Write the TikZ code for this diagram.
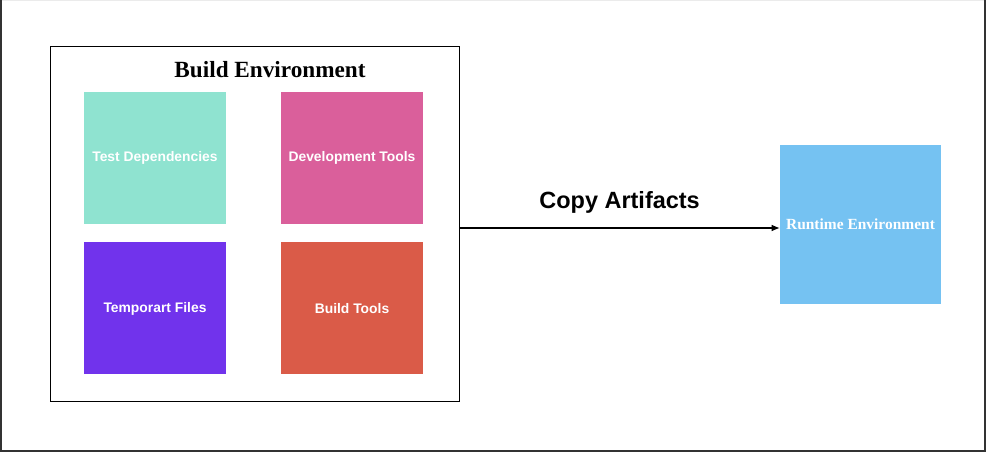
\documentclass[tikz,border=0pt]{standalone}
\usepackage{fontspec}
\setmainfont{Liberation Serif}
\newfontfamily\labelfont{Liberation Sans}
\usepackage{tikz}
\usetikzlibrary{positioning,arrows.meta}

\definecolor{testcol}{HTML}{8FE3D0}
\definecolor{devcol}{HTML}{DA5F9B}
\definecolor{tempcol}{HTML}{7133EC}
\definecolor{buildcol}{HTML}{DA5B48}
\definecolor{runcol}{HTML}{75C2F2}
\definecolor{framecol}{HTML}{333333}

\tikzset{
    part/.style={minimum width=106.5pt, minimum height=99pt, inner sep=0pt, text=white, font=\labelfont\bfseries\fontsize{10.4}{12}\selectfont},
}

\begin{document}
\begin{tikzpicture}[x=0.75pt, y=-0.75pt]
    \useasboundingbox (0,0) rectangle (986,452);
    % frame round the page
    \fill[white] (0,0) rectangle (986,452);
    \draw[black!8, line width=1pt] (0,0.5) -- (986,0.5);
    \draw[framecol, line width=1.2pt] (1,0) -- (1,450.8) -- (984.8,450.8) -- (984.8,0);

    % build environment
    \node[draw, line width=0.75pt, minimum width=306.75pt, minimum height=266.25pt, inner sep=0pt] (build) at (254.5,224.5) {};
    \node[font=\bfseries\fontsize{17.4}{20}\selectfont] (title) at (270,70) {Build Environment};

    \node[part, fill=testcol] (test) at (155,158) {Test Dependencies};
    \node[part, fill=devcol] (dev) at (352,158) {Development Tools};
    \node[part, fill=tempcol] (temp) at (155,308.5) {Temporart Files};
    \node[part, fill=buildcol] (tools) at (352,308.5) {Build Tools};

    % runtime
    \node[fill=runcol, minimum width=120.75pt, minimum height=119.25pt, inner sep=0pt, text=white, font=\bfseries\fontsize{11.6}{13}\selectfont] (run) at (860.5,224.5) {Runtime Environment};

    \draw[-{Latex[length=6pt,width=5pt]}, line width=0.8pt] (build.east |- 0,228) -- (run.west |- 0,228) node[midway, above=7pt, font=\labelfont\bfseries\fontsize{17.6}{20}\selectfont] (copy) {Copy Artifacts};
\end{tikzpicture}
\end{document}
